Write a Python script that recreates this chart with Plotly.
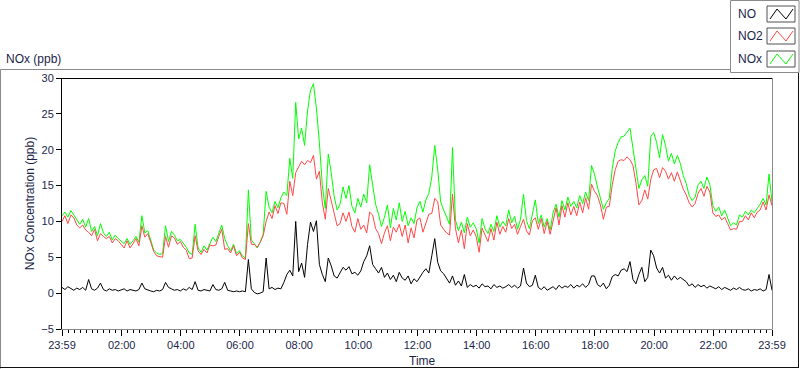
import pandas as pd
import plotly.graph_objects as go

# ---- data (6-minute samples from 23:59 to 23:59 next day) ----
nox = [
    10.8, 11.3, 10.6, 11.5, 10.9, 10.2, 9.6, 10.3, 9.2, 10.4,
    8.6, 9.3, 8.0, 9.7, 8.4, 7.9, 8.5, 7.4, 8.1, 7.6,
    7.2, 6.9, 7.6, 6.8, 7.3, 7.9, 7.1, 10.8, 8.4, 8.7,
    7.4, 6.0, 5.6, 5.4, 5.5, 9.4, 7.2, 8.6, 8.1, 7.3,
    7.5, 7.0, 6.4, 5.6, 5.4, 9.6, 6.3, 5.7, 6.6, 6.0,
    7.0, 7.8, 7.2, 8.3, 9.5, 7.6, 6.6, 5.9, 6.8, 5.5,
    5.9, 5.2, 4.9, 14.4, 7.4, 6.9, 6.3, 7.1, 8.2, 14.2,
    12.0, 11.2, 12.8, 11.9, 13.3, 14.1, 13.6, 18.8, 16.0, 26.6,
    21.5, 23.0, 20.6, 25.4, 28.3, 29.2, 25.8, 21.0, 15.0, 11.8,
    19.4, 16.8, 13.5, 11.6, 12.4, 14.8, 13.2, 15.0, 12.1, 11.2,
    13.2, 12.0, 13.8, 12.6, 17.9, 15.1, 12.4, 11.0, 9.3, 10.6,
    12.3, 9.1, 11.8, 10.2, 12.6, 10.0, 11.4, 9.4, 10.5, 9.7,
    11.9, 12.8, 11.3, 13.0, 13.9, 16.2, 20.6, 17.2, 12.7, 11.6,
    10.5, 9.6, 20.3, 10.2, 8.7, 9.9, 8.4, 10.6, 9.2, 9.8,
    9.0, 7.0, 10.4, 9.0, 8.3, 9.6, 8.6, 10.8, 9.2, 10.0,
    9.4, 11.6, 9.8, 10.7, 8.9, 10.3, 13.8, 10.1, 9.0, 11.2,
    13.0, 9.7, 10.9, 9.2, 10.4, 8.8, 11.2, 12.4, 10.6, 12.9,
    11.6, 13.4, 12.1, 12.8, 11.9, 13.6, 12.5, 14.1, 12.9, 17.8,
    16.6, 14.8, 13.2, 11.7, 12.6, 13.2, 17.4, 19.8, 21.0, 21.8,
    21.9, 22.4, 23.0, 20.2, 17.2, 14.6, 15.8, 16.4, 14.9, 21.8,
    22.4, 21.0, 18.9, 22.1, 20.6, 18.4, 19.5, 18.0, 19.2, 18.1,
    16.4, 15.3, 13.6, 12.9, 13.4, 15.1, 15.6, 14.6, 16.2, 15.1,
    12.2, 11.4, 12.0, 10.8, 11.6, 10.4, 9.4, 9.8, 9.5, 10.9,
    10.6, 11.4, 10.9, 11.6, 11.2, 11.8, 12.4, 13.2, 12.3, 16.6,
    12.7,
]
no2 = [
    10.0, 10.8, 9.7, 10.9, 10.5, 9.5, 9.1, 9.5, 8.8, 8.5,
    8.0, 8.9, 7.3, 8.3, 7.9, 7.6, 7.9, 7.0, 7.6, 7.3,
    6.8, 6.3, 7.3, 6.3, 6.9, 7.6, 6.6, 9.4, 7.8, 8.3,
    7.1, 5.8, 5.2, 5.1, 5.0, 7.9, 6.4, 8.0, 7.7, 6.8,
    7.2, 6.4, 6.0, 4.8, 4.9, 8.0, 5.9, 5.4, 6.1, 5.6,
    6.7, 6.6, 6.7, 7.9, 8.9, 6.1, 6.2, 5.6, 6.6, 5.2,
    5.7, 4.9, 4.7, 9.7, 6.8, 6.8, 6.4, 7.1, 8.0, 10.0,
    11.3, 10.4, 12.2, 11.1, 12.6, 12.5, 11.0, 15.6, 13.6, 16.8,
    17.6, 18.4, 17.9, 18.5, 18.2, 19.2, 15.9, 17.0, 12.6, 10.3,
    14.6, 13.0, 11.0, 9.4, 9.7, 11.2, 10.0, 11.3, 9.3, 8.5,
    10.4, 8.9, 9.5, 8.4, 11.3, 10.9, 9.0, 8.3, 6.9, 8.4,
    9.4, 7.3, 9.2, 8.5, 9.6, 7.9, 9.5, 7.0, 9.1, 7.7,
    10.2, 10.5, 8.5, 9.7, 11.0, 11.1, 13.2, 12.8, 9.5, 8.9,
    8.4, 8.1, 13.8, 9.0, 7.0, 8.8, 6.2, 9.7, 8.0, 8.8,
    7.9, 5.7, 9.1, 8.1, 7.2, 9.0, 7.4, 9.9, 8.2, 9.3,
    8.5, 10.4, 9.0, 9.6, 8.2, 9.3, 10.3, 8.7, 8.1, 10.1,
    10.5, 8.9, 10.4, 8.3, 10.0, 8.2, 10.3, 11.9, 9.5, 12.2,
    10.6, 12.6, 10.9, 12.1, 10.8, 12.7, 11.2, 13.3, 11.7, 15.2,
    14.2, 13.6, 12.3, 10.3, 12.0, 12.1, 15.1, 17.2, 18.4, 18.6,
    18.5, 19.0, 18.6, 17.8, 15.4, 12.3, 12.9, 14.4, 13.1, 15.8,
    17.2, 17.4, 16.1, 17.5, 17.0, 15.9, 16.8, 15.6, 16.9, 15.8,
    14.5, 13.7, 12.6, 12.0, 12.5, 13.9, 14.6, 13.5, 14.9, 14.1,
    11.2, 10.7, 10.9, 10.2, 10.6, 9.7, 8.8, 9.0, 8.9, 10.0,
    10.0, 10.8, 10.2, 11.2, 10.5, 11.3, 11.6, 12.7, 11.6, 13.7,
    12.2,
]
no = [
    0.8, 0.5, 0.9, 0.6, 0.4, 0.7, 0.5, 0.8, 0.4, 1.9,
    0.6, 0.4, 0.7, 1.4, 0.5, 0.3, 0.6, 0.4, 0.5, 0.3,
    0.4, 0.6, 0.3, 0.5, 0.4, 0.3, 0.5, 1.4, 0.6, 0.4,
    0.3, 0.2, 0.4, 0.3, 0.5, 1.5, 0.8, 0.6, 0.4, 0.5,
    0.3, 0.6, 0.4, 0.8, 0.5, 1.6, 0.4, 0.3, 0.5, 0.4,
    0.3, 1.2, 0.5, 0.4, 0.6, 1.5, 0.4, 0.3, 0.2, 0.3,
    0.2, 0.3, 0.2, 4.7, 0.6, 0.1, -0.1, 0.0, 0.2, 4.9,
    0.6, 0.8, 0.5, 0.7, 0.6, 1.5, 2.6, 3.2, 2.4, 10.0,
    3.0, 4.2, 2.2, 6.8, 9.9, 8.6, 10.1, 4.0, 2.6, 1.6,
    4.9, 3.8, 2.4, 2.1, 2.8, 3.6, 3.2, 3.7, 2.7, 2.9,
    2.5, 3.1, 4.4, 5.2, 6.6, 4.0, 3.4, 2.8, 3.6, 2.2,
    2.8, 1.9, 2.5, 1.6, 2.9, 2.1, 1.8, 2.4, 1.3, 2.0,
    1.6, 2.3, 2.9, 3.4, 2.8, 5.2, 7.6, 4.3, 3.1, 2.7,
    2.0, 1.4, 2.4, 1.1, 1.7, 1.0, 2.6, 0.8, 1.2, 0.9,
    1.1, 0.7, 1.3, 0.9, 1.0, 0.6, 1.2, 0.8, 1.0, 0.7,
    0.9, 1.2, 0.8, 1.1, 0.7, 1.0, 3.5, 1.4, 0.9, 1.1,
    2.5, 0.8, 0.5, 0.9, 0.4, 0.6, 0.9, 0.5, 1.1, 0.7,
    1.0, 0.8, 1.2, 0.7, 1.1, 0.9, 1.3, 0.8, 1.2, 2.4,
    2.4, 1.2, 0.9, 1.4, 0.6, 1.1, 2.3, 2.6, 2.4, 3.2,
    3.4, 3.0, 4.4, 1.9, 1.3, 2.6, 3.6, 1.6, 2.2, 6.0,
    5.2, 3.5, 2.8, 3.6, 2.1, 2.5, 1.8, 2.4, 1.9, 2.2,
    1.9, 1.6, 1.0, 1.3, 0.8, 1.2, 0.9, 1.1, 0.7, 1.0,
    0.8, 0.6, 0.9, 0.5, 0.8, 0.6, 0.4, 0.7, 0.5, 0.8,
    0.5, 0.4, 0.6, 0.3, 0.5, 0.4, 0.6, 0.3, 0.5, 2.6,
    0.4,
]
start_time = "2023-01-01 23:59"
end_time = "2023-01-02 23:59"
tick_times = ["2023-01-01 23:59", "2023-01-02 02:00", "2023-01-02 04:00",
              "2023-01-02 06:00", "2023-01-02 08:00", "2023-01-02 10:00",
              "2023-01-02 12:00", "2023-01-02 14:00", "2023-01-02 16:00",
              "2023-01-02 18:00", "2023-01-02 20:00", "2023-01-02 22:00",
              "2023-01-02 23:59"]
tick_labels = ["23:59", "02:00", "04:00", "06:00", "08:00", "10:00", "12:00",
               "14:00", "16:00", "18:00", "20:00", "22:00", "23:59"]
series_names = ["NO", "NO2", "NOx"]
series_colors = ["#000000", "#ff4848", "#00ff00"]

times = pd.date_range(start_time, end_time, periods=len(nox))

W, H = 800, 369
L, R, T, B = 62, 28, 78, 40
PW, PH = W - L - R, H - T - B
TXT = "#1b1f4a"
FONT = "Liberation Sans, Arial, sans-serif"


def px(x):
    return (x - L) / PW


def py(y):
    return (H - B - y) / PH


fig = go.Figure()
fig.add_trace(go.Scatter(x=times, y=nox, mode="lines", name=series_names[2],
                         line=dict(color=series_colors[2], width=1)))
fig.add_trace(go.Scatter(x=times, y=no2, mode="lines", name=series_names[1],
                         line=dict(color=series_colors[1], width=1)))
fig.add_trace(go.Scatter(x=times, y=no, mode="lines", name=series_names[0],
                         line=dict(color=series_colors[0], width=1)))

shapes = []


def line(x0, y0, x1, y1, color, width=1):
    shapes.append(dict(type="line", xref="paper", yref="paper",
                       x0=px(x0), y0=py(y0), x1=px(x1), y1=py(y1),
                       line=dict(color=color, width=width), layer="above"))


# outer panel frame
line(0.5, 69.5, 730, 69.5, "#8a8a8a")
line(0.5, 69.5, 0.5, 368.5, "#8a8a8a")
line(0, 367.5, 799, 367.5, "#101010")
line(798.5, 72, 798.5, 368, "#101010")
# plot frame top & right
line(62, 78.5, 772, 78.5, "#000000")
line(772.5, 78, 772.5, 329.5, "#8a8a8a")
# legend box
shapes.append(dict(type="rect", xref="paper", yref="paper",
                   x0=px(730.5), y0=py(0.5), x1=px(799), y1=py(72.5),
                   line=dict(color="#8a8a8a", width=1), fillcolor="white"))
annotations = []
for i, (nm, col, yc) in enumerate(zip(series_names, series_colors, [14, 36, 59])):
    top, bot = yc - 8, yc + 8
    shapes.append(dict(type="rect", xref="paper", yref="paper",
                       x0=px(767), y0=py(top), x1=px(795), y1=py(bot),
                       line=dict(color="#505050", width=1), fillcolor="white"))
    path = "M {} {} L {} {} L {} {} L {} {}".format(
        px(770), py(bot - 3), px(777), py(top + 3),
        px(786), py(bot - 3), px(793), py(top + 3))
    shapes.append(dict(type="path", xref="paper", yref="paper", path=path,
                       line=dict(color=col, width=1)))
    annotations.append(dict(xref="paper", yref="paper", x=px(736), y=py(yc),
                            text=nm, showarrow=False, xanchor="left",
                            yanchor="middle",
                            font=dict(family=FONT, size=12, color=TXT)))

annotations.append(dict(xref="paper", yref="paper", x=px(4), y=py(59),
                        text="NOx (ppb)", showarrow=False, xanchor="left",
                        yanchor="middle",
                        font=dict(family=FONT, size=12, color=TXT)))
annotations.append(dict(xref="paper", yref="paper", x=px(422), y=py(361),
                        text="Time", showarrow=False, xanchor="center",
                        yanchor="middle",
                        font=dict(family=FONT, size=12, color=TXT)))

fig.update_layout(
    width=W, height=H,
    margin=dict(l=L, r=R, t=T, b=B, pad=0),
    paper_bgcolor="white", plot_bgcolor="white",
    showlegend=False,
    shapes=shapes, annotations=annotations,
    font=dict(family=FONT, size=11, color=TXT),
    xaxis=dict(
        type="date", range=[start_time, end_time],
        tickmode="array", tickvals=tick_times, ticktext=tick_labels,
        ticks="outside", ticklen=6, tickcolor="#000000", tickwidth=1,
        showgrid=False, zeroline=False,
        showline=True, linecolor="#8a8a8a", linewidth=1,
        tickfont=dict(family=FONT, size=11, color=TXT),
        minor=dict(ticks="outside", ticklen=3, tickcolor="#000000",
                   tickmode="linear", tick0="2023-01-02 00:00",
                   dtick=720000, showgrid=False),
    ),
    yaxis=dict(
        range=[-5, 30], tickmode="linear", tick0=-5, dtick=5,
        ticks="outside", ticklen=5, tickcolor="#000000", tickwidth=1,
        showgrid=False, zeroline=False,
        showline=True, linecolor="#000000", linewidth=1,
        tickfont=dict(family=FONT, size=11, color=TXT),
        title=dict(text="NOx Concentration (ppb)", standoff=4,
                   font=dict(family=FONT, size=12, color=TXT)),
    ),
)

fig.write_html("out.html",
               config={"displayModeBar": False},
               post_script="document.body.style.margin='0';"
                           "document.body.style.overflow='hidden';")
